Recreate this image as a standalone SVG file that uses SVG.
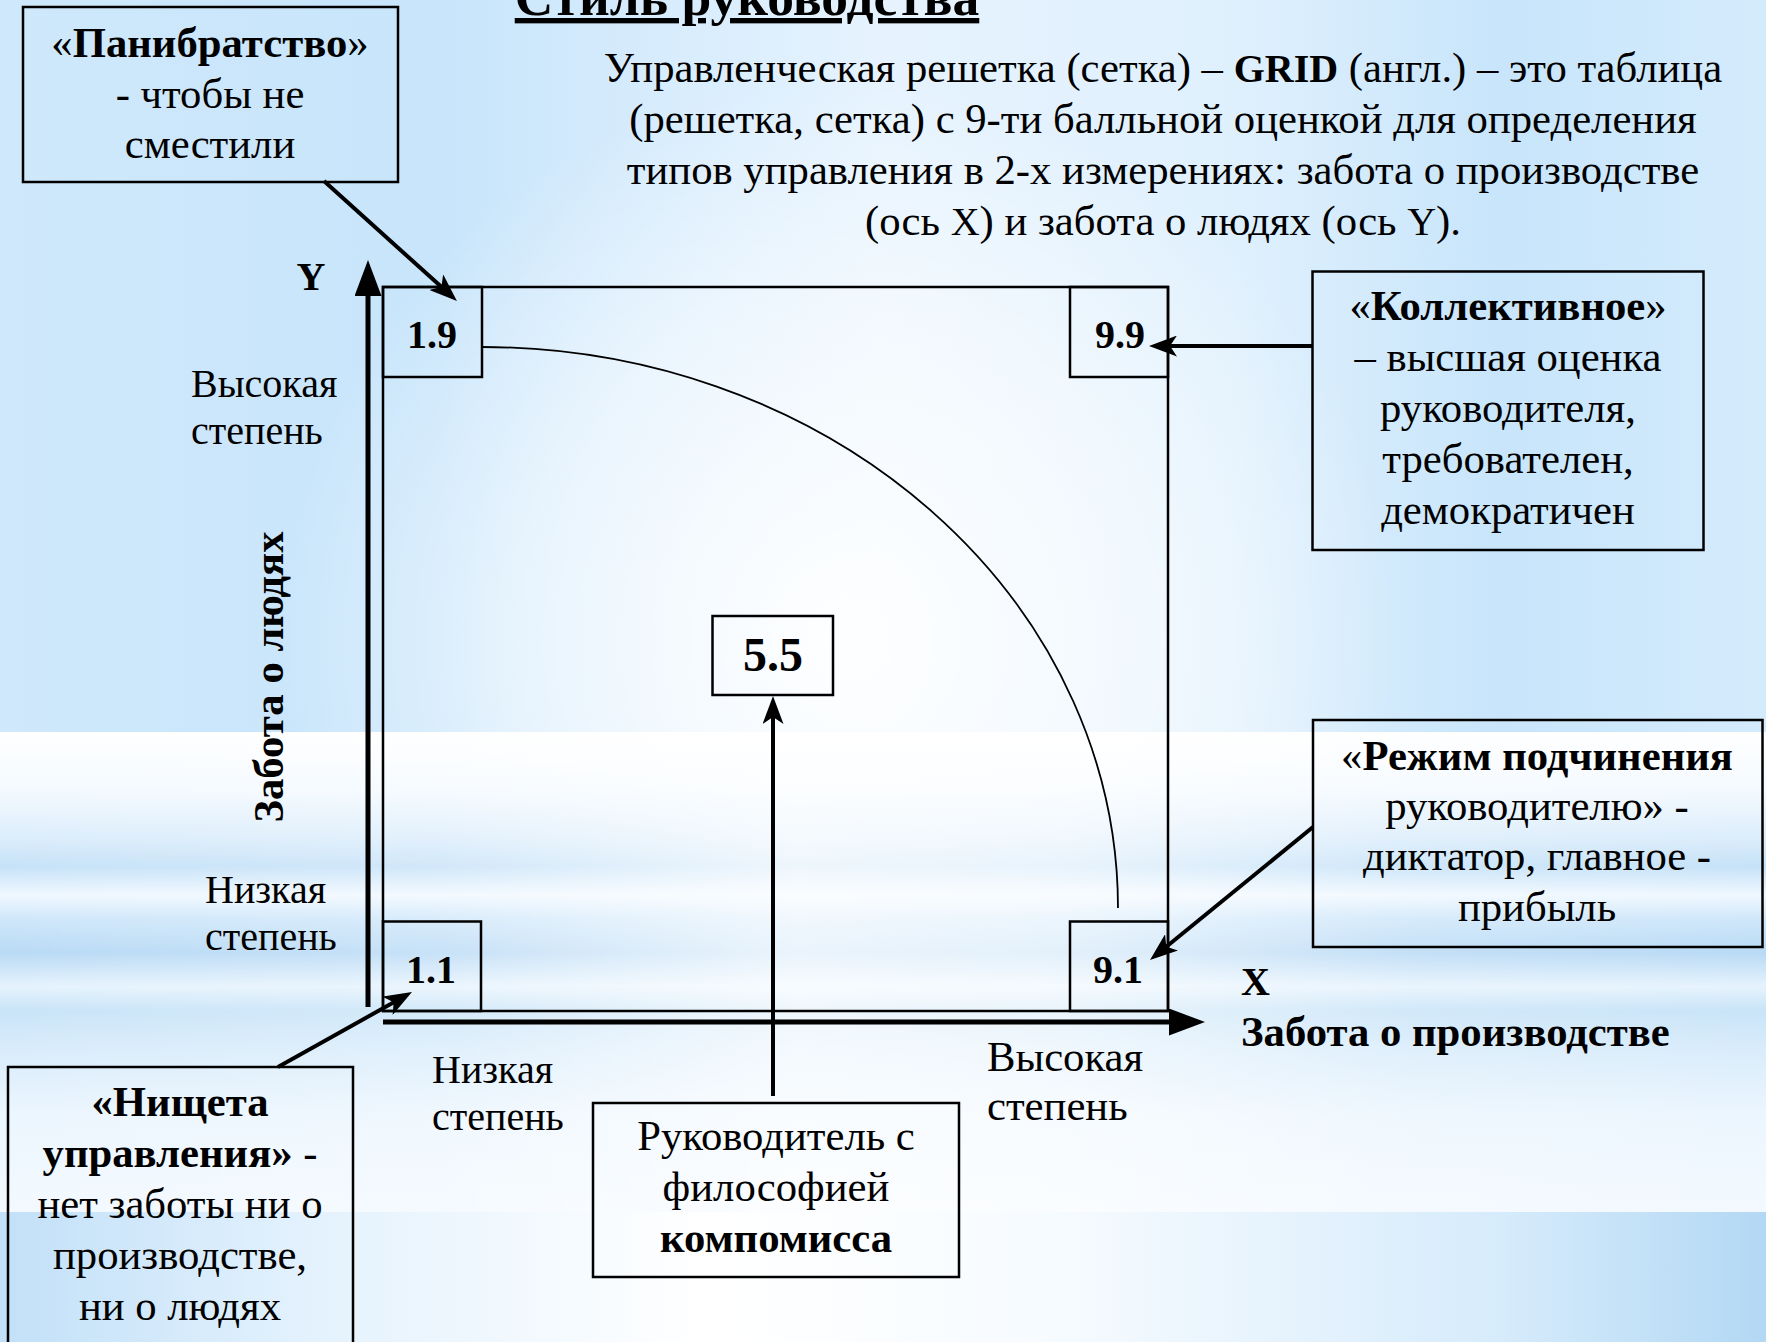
<svg xmlns="http://www.w3.org/2000/svg" width="1766" height="1342" viewBox="0 0 1766 1342">
<defs>
  <linearGradient id="topG" x1="0" y1="0" x2="1766" y2="0" gradientUnits="userSpaceOnUse">
    <stop offset="0" stop-color="#cfe8fb"/>
    <stop offset="0.25" stop-color="#c8e5fb"/>
    <stop offset="0.5" stop-color="#e6f3fe"/>
    <stop offset="0.7" stop-color="#dff0fd"/>
    <stop offset="0.85" stop-color="#c8e5fb"/>
    <stop offset="1" stop-color="#d4ebfc"/>
  </linearGradient>
  <radialGradient id="glow" cx="840" cy="640" r="560" gradientUnits="userSpaceOnUse">
    <stop offset="0" stop-color="#ffffff" stop-opacity="0.95"/>
    <stop offset="0.6" stop-color="#ffffff" stop-opacity="0.5"/>
    <stop offset="1" stop-color="#ffffff" stop-opacity="0"/>
  </radialGradient>
  <linearGradient id="midG" x1="0" y1="732" x2="0" y2="1212" gradientUnits="userSpaceOnUse">
    <stop offset="0" stop-color="#ffffff"/>
    <stop offset="0.12" stop-color="#f4faff"/>
    <stop offset="0.22" stop-color="#dcedfb"/>
    <stop offset="0.28" stop-color="#c6e2f8"/>
    <stop offset="0.34" stop-color="#f0f8ff"/>
    <stop offset="0.39" stop-color="#cfe7fa"/>
    <stop offset="0.46" stop-color="#b9daf5"/>
    <stop offset="0.53" stop-color="#e6f3fd"/>
    <stop offset="0.58" stop-color="#c9e4f8"/>
    <stop offset="0.66" stop-color="#d9ecfb"/>
    <stop offset="0.8" stop-color="#ecf6fe"/>
    <stop offset="1" stop-color="#f3f9ff"/>
  </linearGradient>
  <linearGradient id="midFade" x1="0" y1="0" x2="1766" y2="0" gradientUnits="userSpaceOnUse">
    <stop offset="0" stop-color="#ffffff" stop-opacity="0"/>
    <stop offset="0.25" stop-color="#ffffff" stop-opacity="0.2"/>
    <stop offset="0.45" stop-color="#ffffff" stop-opacity="0.7"/>
    <stop offset="0.6" stop-color="#ffffff" stop-opacity="0.6"/>
    <stop offset="0.8" stop-color="#ffffff" stop-opacity="0.15"/>
    <stop offset="1" stop-color="#ffffff" stop-opacity="0"/>
  </linearGradient>
  <linearGradient id="botG" x1="0" y1="0" x2="1766" y2="0" gradientUnits="userSpaceOnUse">
    <stop offset="0" stop-color="#c2e0f8"/>
    <stop offset="0.18" stop-color="#e4f2fd"/>
    <stop offset="0.4" stop-color="#ffffff"/>
    <stop offset="0.6" stop-color="#f6fbff"/>
    <stop offset="0.85" stop-color="#d6ebfb"/>
    <stop offset="1" stop-color="#b3d8f4"/>
  </linearGradient>
  <marker id="stealth" markerUnits="userSpaceOnUse" markerWidth="28" markerHeight="21" viewBox="0 0 28 21" refX="20" refY="10.5" orient="auto">
    <path d="M0,0 L28,10.5 L0,21 L7,10.5 Z" fill="#000"/>
  </marker>
  <marker id="tri" markerUnits="userSpaceOnUse" markerWidth="36" markerHeight="27" viewBox="0 0 36 27" refX="2" refY="13.5" orient="auto">
    <path d="M0,0 L36,13.5 L0,27 Z" fill="#000"/>
  </marker>
  <style>
    .t{font-family:"Liberation Serif","Times New Roman",serif;font-size:42.7px;fill:#000}
    .b{font-weight:bold}
    .c{text-anchor:middle}
    .lat{font-size:40px}
    .lbl{font-size:40px}
    .box{fill:none;stroke:#000;stroke-width:2.5}
    .conn{fill:none;stroke:#000;stroke-width:4}
    .axis{fill:none;stroke:#000;stroke-width:5}
    .num{font-family:"Liberation Serif","Times New Roman",serif;font-weight:bold;font-size:40px;text-anchor:middle}
  </style>
</defs>

<!-- background -->
<rect x="0" y="0" width="1766" height="732" fill="url(#topG)"/>
<rect x="0" y="0" width="1766" height="732" fill="url(#glow)"/>
<rect x="0" y="732" width="1766" height="480" fill="url(#midG)"/>
<rect x="0" y="732" width="1766" height="480" fill="url(#midFade)"/>
<rect x="0" y="1212" width="1766" height="130" fill="url(#botG)"/>

<!-- title and description -->
<g id="title">
  <text class="t b c" x="747" y="15" style="font-size:53.5px" text-decoration="underline">Стиль руководства</text>
</g>
<g id="description">
  <text class="t c" x="1163" y="82">Управленческая решетка (сетка) – <tspan class="b lat">GRID</tspan> (англ.) – это таблица</text>
  <text class="t c" x="1163" y="133">(решетка, сетка) с 9-ти балльной оценкой для определения</text>
  <text class="t c" x="1163" y="184">типов управления в 2-х измерениях: забота о производстве</text>
  <text class="t c" x="1163" y="235">(ось <tspan class="lat">X</tspan>) и забота о людях (ось <tspan class="lat">Y</tspan>).</text>
</g>

<!-- grid -->
<g id="grid">
  <rect class="box" x="383" y="287" width="785" height="724"/>
  <path d="M482,347 A636,561 0 0 1 1118,908" fill="none" stroke="#000" stroke-width="1.8"/>
</g>

<g id="axes">
  <line class="axis" x1="368" y1="1007" x2="368" y2="294" marker-end="url(#tri)"/>
  <line class="axis" x1="383" y1="1022" x2="1171" y2="1022" marker-end="url(#tri)"/>
  <text class="t b lat" x="311" y="290" text-anchor="middle">Y</text>
  <text class="t b lat" x="1241" y="995">X</text>
  <text class="t b" x="1241" y="1046">Забота о производстве</text>
  <text class="t b c" transform="translate(283,677) rotate(-90)">Забота о людях</text>
  <text class="t lbl" x="191" y="397">Высокая</text>
  <text class="t lbl" x="191" y="444">степень</text>
  <text class="t lbl" x="205" y="903">Низкая</text>
  <text class="t lbl" x="205" y="950">степень</text>
  <text class="t lbl" x="432" y="1083">Низкая</text>
  <text class="t lbl" x="432" y="1130">степень</text>
  <text class="t" x="987" y="1071">Высокая</text>
  <text class="t" x="987" y="1120">степень</text>
</g>

<!-- corner nodes -->
<g id="n19">
  <rect class="box" x="383" y="287" width="99" height="90"/>
  <text class="num" x="432" y="348">1.9</text>
</g>
<g id="n99">
  <rect class="box" x="1070" y="287" width="98" height="90"/>
  <text class="num" x="1120" y="348">9.9</text>
</g>
<g id="n11">
  <rect class="box" x="383" y="921.5" width="98" height="89.5"/>
  <text class="num" x="431" y="983">1.1</text>
</g>
<g id="n91">
  <rect class="box" x="1070" y="921.5" width="98" height="89.5"/>
  <text class="num" x="1118" y="983">9.1</text>
</g>
<g id="n55">
  <rect class="box" x="712.5" y="616" width="120.5" height="79"/>
  <text class="num" x="773" y="671" style="font-size:48px">5.5</text>
</g>

<!-- callout nodes -->
<g id="panibratstvo">
  <rect class="box" x="23" y="7" width="375" height="175"/>
  <text class="t c" x="210" y="57">«<tspan class="b">Панибратство</tspan>»</text>
  <text class="t c" x="210" y="108">- чтобы не</text>
  <text class="t c" x="210" y="158">сместили</text>
</g>
<g id="kollektivnoe">
  <rect class="box" x="1312.5" y="271.5" width="391" height="278.5"/>
  <text class="t c" x="1508" y="320">«<tspan class="b">Коллективное</tspan>»</text>
  <text class="t c" x="1508" y="371">– высшая оценка</text>
  <text class="t c" x="1508" y="422">руководителя,</text>
  <text class="t c" x="1508" y="473">требователен,</text>
  <text class="t c" x="1508" y="524">демократичен</text>
</g>
<g id="rezhim">
  <rect class="box" x="1313" y="720" width="449.5" height="227"/>
  <text class="t c" x="1537" y="770">«<tspan class="b">Режим подчинения</tspan></text>
  <text class="t c" x="1537" y="820">руководителю» -</text>
  <text class="t c" x="1537" y="870">диктатор, главное -</text>
  <text class="t c" x="1537" y="921">прибыль</text>
</g>
<g id="nishcheta">
  <rect class="box" x="8" y="1067" width="345" height="290"/>
  <text class="t b c" x="180" y="1116">«Нищета</text>
  <text class="t c" x="180" y="1167"><tspan class="b">управления»</tspan> -</text>
  <text class="t c" x="180" y="1218">нет заботы ни о</text>
  <text class="t c" x="180" y="1269">производстве,</text>
  <text class="t c" x="180" y="1320">ни о людях</text>
</g>
<g id="kompromiss">
  <rect class="box" x="593" y="1103" width="366" height="174"/>
  <text class="t c" x="776" y="1150">Руководитель с</text>
  <text class="t c" x="776" y="1201">философией</text>
  <text class="t b c" x="776" y="1252">компомисса</text>
</g>

<!-- connectors -->
<g id="connectors">
  <line class="conn" x1="324" y1="181" x2="451" y2="295.6" marker-end="url(#stealth)"/>
  <line class="conn" x1="1313" y1="346" x2="1157" y2="346" marker-end="url(#stealth)"/>
  <line class="conn" x1="1313" y1="827" x2="1156.2" y2="955" marker-end="url(#stealth)"/>
  <line class="conn" x1="278" y1="1067" x2="405" y2="996" marker-end="url(#stealth)"/>
  <line class="conn" x1="773" y1="1096" x2="773" y2="704" marker-end="url(#stealth)"/>
</g>
</svg>
